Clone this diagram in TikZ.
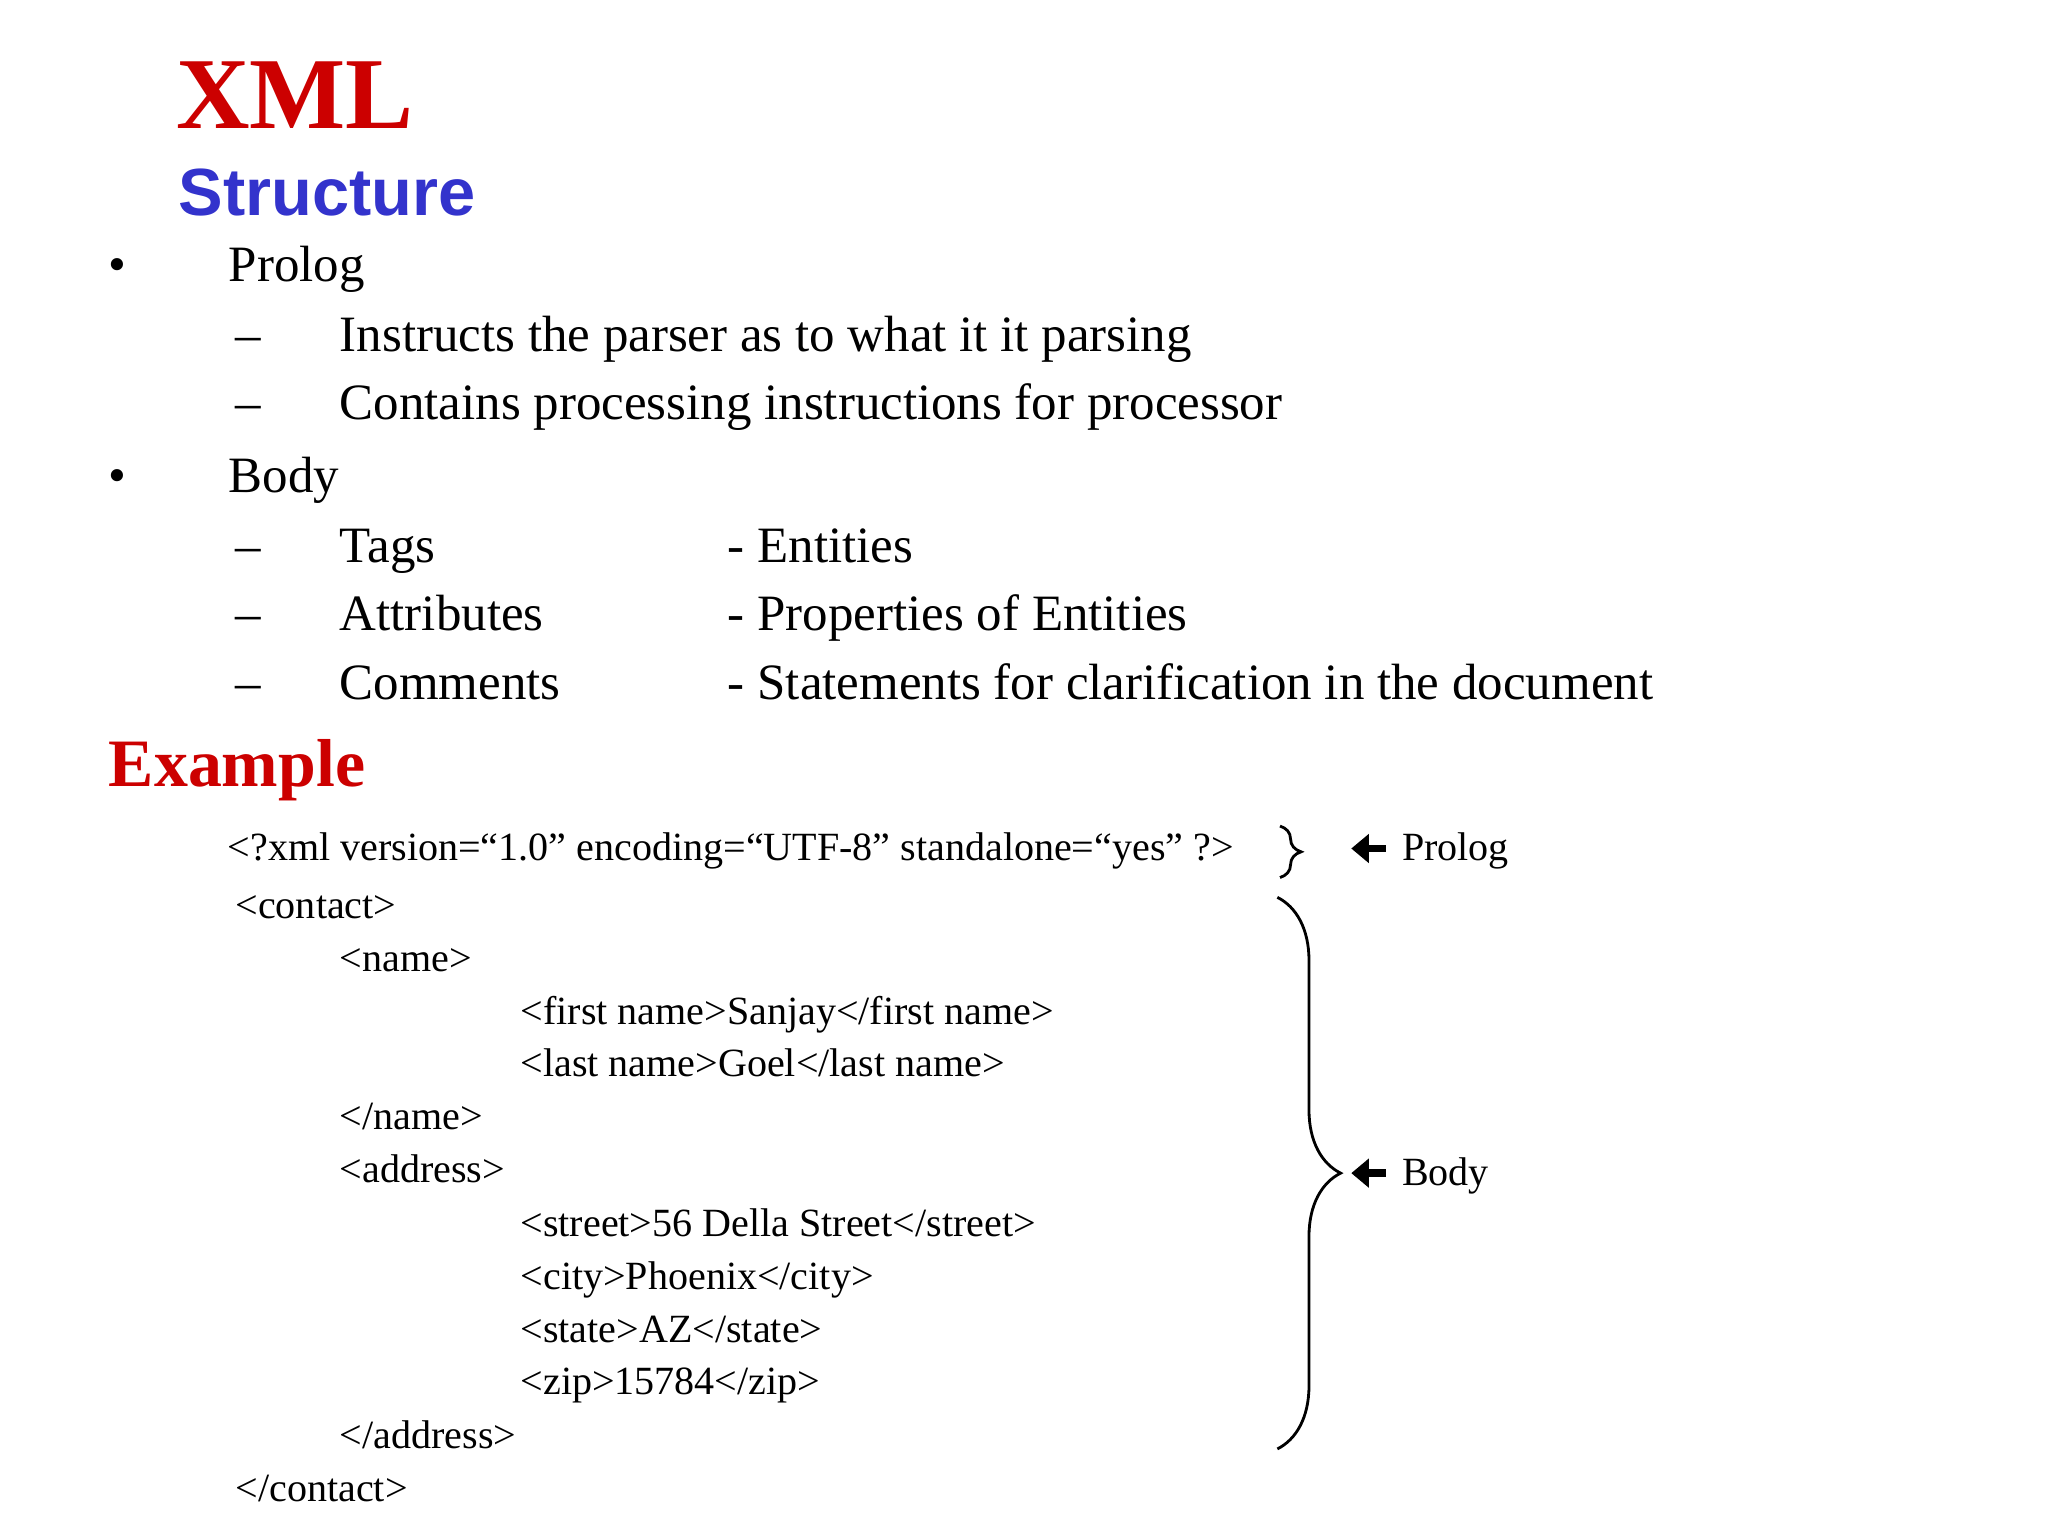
\documentclass[tikz,border=0pt]{standalone}
\usepackage{fontspec}
\setmainfont{Liberation Serif}
\setsansfont{Liberation Sans}
\usetikzlibrary{decorations.pathreplacing,arrows.meta}
\definecolor{xred}{RGB}{204,0,0}
\definecolor{xblue}{RGB}{51,51,204}
\begin{document}
\begin{tikzpicture}[x=0.013196cm,y=-0.013196cm,
  t/.style={anchor=base west,inner sep=0pt,font=\fontsize{14.5}{17}\selectfont},
  c/.style={anchor=base west,inner sep=0pt,font=\fontsize{11.4}{14}\selectfont},
  br/.style={decorate,decoration={brace,amplitude=#1},line width=0.8pt},
  ar/.style={-{Triangle[length=5pt,width=8pt]},line width=2.2pt}]
\useasboundingbox (0,0) rectangle (1552,1164);
\node[anchor=base west,inner sep=0pt,text=xred,font=\fontsize{29}{32}\selectfont\bfseries] (xml) at (133,97) {XML};
\node[anchor=base west,inner sep=0pt,text=xblue,font=\sffamily\bfseries\fontsize{19}{22}\selectfont] (str) at (135,163) {Structure};
\node[t] (b1) at (82,213) {•};
\node[t] (p) at (173,213) {Prolog};
\node[t] (d1) at (178,266) {–};
\node[t] (p1) at (257,266) {Instructs the parser as to what it it parsing};
\node[t] (d2) at (178,318) {–};
\node[t] (p2) at (257,318) {Contains processing instructions for processor};
\node[t] (b2) at (82,373) {•};
\node[t] (bd) at (173,373) {Body};
\node[t] (d3) at (178,426) {–};
\node[t] (tg) at (257,426) {Tags};
\node[t] (tg2) at (551,426) {- Entities};
\node[t] (d4) at (178,478) {–};
\node[t] (at) at (257,478) {Attributes};
\node[t] (at2) at (551,478) {- Properties of Entities};
\node[t] (d5) at (178,530) {–};
\node[t] (cm) at (257,530) {Comments};
\node[t] (cm2) at (551,530) {- Statements for clarification in the document};
\node[anchor=base west,inner sep=0pt,text=xred,font=\fontsize{19.3}{22}\selectfont\bfseries] (ex) at (82,596) {Example};
\node[c] (l0) at (172,652) {<?xml version=“1.0” encoding=“UTF-8” standalone=“yes” ?>};
\node[c] (l1) at (178,696) {<contact>};
\node[c] (l2) at (257,736) {<name>};
\node[c] (l3) at (394,776) {<first name>Sanjay</first name>};
\node[c] (l4) at (394,816) {<last name>Goel</last name>};
\node[c] (l5) at (257,856) {</name>};
\node[c] (l6) at (257,896) {<address>};
\node[c] (l7) at (394,937) {<street>56 Della Street</street>};
\node[c] (l8) at (394,977) {<city>Phoenix</city>};
\node[c] (l9) at (394,1017) {<state>AZ</state>};
\node[c] (l10) at (394,1057) {<zip>15784</zip>};
\node[c] (l11) at (257,1098) {</address>};
\node[c] (l12) at (178,1138) {</contact>};
\coordinate (pb1) at (970,626);
\coordinate (pb2) at (970,665);
\draw[br=6pt] (pb1) -- (pb2);
\coordinate (bb1) at (968,680);
\coordinate (bb2) at (968,1098);
\draw[br=18pt] (bb1) -- (bb2);
\node[c] (pl) at (1062,652) {Prolog};
\node[c] (bl) at (1062,898) {Body};
\coordinate (pa) at (1050,643);
\coordinate (ba) at (1050,889);
\draw[ar] (pa) -- ++(-26,0);
\draw[ar] (ba) -- ++(-26,0);
\end{tikzpicture}
\end{document}
